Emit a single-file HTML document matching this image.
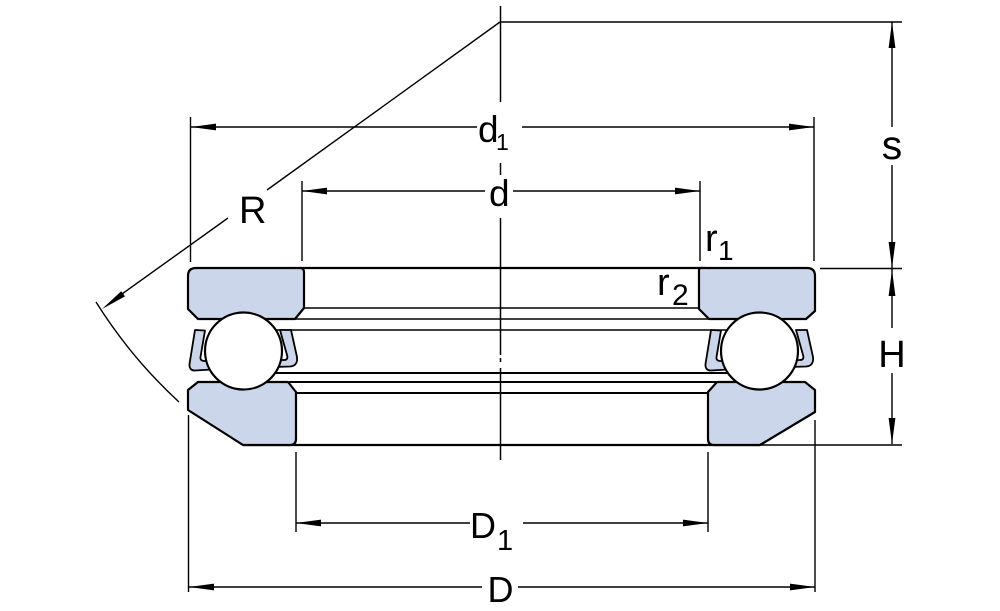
<!DOCTYPE html>
<html><head><meta charset="utf-8"><style>
html,body{margin:0;padding:0;background:#fff;}
svg{display:block;}
text{font-family:"Liberation Sans",Arial,sans-serif;fill:#000;}
</style></head><body>
<svg width="1000" height="611" viewBox="0 0 1000 611" xmlns="http://www.w3.org/2000/svg">
<rect width="1000" height="611" fill="#fff"/>
<g stroke="#000" stroke-width="1.4" fill="none">
  <!-- center line -->
  <line x1="500.5" y1="6" x2="500.5" y2="102" stroke-width="1.5"/>
  <line x1="500.5" y1="163" x2="500.5" y2="175" stroke-width="1.5"/>
  <line x1="500.5" y1="218" x2="500.5" y2="355" stroke-width="1.5"/>
  <line x1="500.5" y1="358" x2="500.5" y2="362" stroke-width="1.5"/>
  <line x1="500.5" y1="368" x2="500.5" y2="460" stroke-width="1.5"/>
  <!-- top line -->
  <line x1="500" y1="22" x2="902" y2="22"/>
  <!-- R line -->
  <line x1="500" y1="22" x2="267" y2="190"/>
  <line x1="228" y1="218" x2="122" y2="294"/>
  <path d="M96,302 A490,490 0 0 0 179,402"/>
  <!-- d1 -->
  <line x1="190.5" y1="117" x2="190.5" y2="262"/>
  <line x1="814" y1="117" x2="814" y2="261"/>
  <line x1="191" y1="127" x2="477" y2="127"/>
  <line x1="522" y1="127" x2="814" y2="127"/>
  <!-- d -->
  <line x1="302" y1="181" x2="302" y2="261"/>
  <line x1="700" y1="181" x2="700" y2="261"/>
  <line x1="302" y1="191" x2="485" y2="191"/>
  <line x1="513" y1="191" x2="700" y2="191"/>
  <!-- s -->
  <line x1="892" y1="22" x2="892" y2="127"/>
  <line x1="892" y1="165" x2="892" y2="268"/>
  <line x1="820" y1="268.5" x2="902" y2="268.5"/>
  <!-- H -->
  <line x1="892" y1="269" x2="892" y2="328"/>
  <line x1="892" y1="373" x2="892" y2="444"/>
  <line x1="760" y1="445" x2="902" y2="445"/>
  <!-- D1 -->
  <line x1="296" y1="452" x2="296" y2="532"/>
  <line x1="708" y1="452" x2="708" y2="532"/>
  <line x1="296" y1="523" x2="470" y2="523"/>
  <line x1="523" y1="523" x2="708" y2="523"/>
  <!-- D -->
  <line x1="188.5" y1="415" x2="188.5" y2="592"/>
  <line x1="815" y1="420" x2="815" y2="592"/>
  <line x1="189" y1="587" x2="482" y2="587"/>
  <line x1="518" y1="587" x2="815" y2="587"/>
</g>
<!-- arrowheads -->
<g fill="#000" stroke="none">
  <polygon points="102,309 121.2,291.2 125,296.4"/>
  <polygon points="191,127 216,123.6 216,130.4"/>
  <polygon points="814,127 789,123.6 789,130.4"/>
  <polygon points="302,191 327,187.6 327,194.4"/>
  <polygon points="700,191 675,187.6 675,194.4"/>
  <polygon points="892,22 888.6,48 895.4,48"/>
  <polygon points="892,268 888.6,242 895.4,242"/>
  <polygon points="892,270 888.6,296 895.4,296"/>
  <polygon points="892,444 888.6,418 895.4,418"/>
  <polygon points="296,523 321,519.6 321,526.4"/>
  <polygon points="708,523 683,519.6 683,526.4"/>
  <polygon points="189,587 214,583.6 214,590.4"/>
  <polygon points="815,587 790,583.6 790,590.4"/>
</g>
<!-- bearing horizontal lines -->
<g stroke="#000" fill="none">
  <line x1="300" y1="268" x2="705" y2="268" stroke-width="2.2"/>
  <line x1="304" y1="308" x2="699" y2="308" stroke-width="1.6"/>
  <line x1="295" y1="319" x2="709" y2="319" stroke-width="1.6"/>
  <line x1="262" y1="330" x2="740" y2="330" stroke-width="1.6"/>
  <line x1="262" y1="373" x2="740" y2="373" stroke-width="2"/>
  <line x1="289" y1="382" x2="717" y2="382" stroke-width="2"/>
  <line x1="296" y1="393" x2="708" y2="393" stroke-width="2"/>
  <line x1="243" y1="445" x2="760" y2="445" stroke-width="2.2"/>
</g>
<!-- washers -->
<g fill="#cbd6ea" stroke="#000" stroke-width="2.2" stroke-linejoin="round">
  <path d="M196,268 L300,268 Q304,268 304,272 L304,308 L295,319 L198,319 L188,309 L188,276 Q188,268 196,268 Z"/>
  <path d="M701,268 L807,268 Q815,268 815,276 L815,311 L806,319 L709,319 L699,309 L699,270 Q699,268 701,268 Z"/>
  <path d="M198,382 L288,382 L296,392 L296,439 Q296,445 290,445 L243,445 L188,410 L188,390 Z"/>
  <path d="M717,382 L805,382 L815,390 L815,412 L760,445 L714,445 Q708,445 708,439 L708,392 Z"/>
</g>
<!-- cages and balls -->
<g>
  <g fill="#cbd6ea" stroke="#000" stroke-width="1.8" stroke-linejoin="round">
    <path d="M195,330 L205,330.5 L200.5,357 Q200,361 204.5,361 L212,361 L212,369.5 L195,370.5 Q189,370.5 189.5,364 Z"/>
    <path d="M280,330 L291,330 L297,357 Q298,366 290,366.5 L274,367 L274,360 L284,360 Q288,360 287.3,356 Z"/>
  </g>
  <circle cx="243.5" cy="351" r="38.5" fill="#fff" stroke="#000" stroke-width="2.2"/>
</g>
<g transform="translate(516,0)">
  <g fill="#cbd6ea" stroke="#000" stroke-width="1.8" stroke-linejoin="round">
    <path d="M195,330 L205,330.5 L200.5,357 Q200,361 204.5,361 L212,361 L212,369.5 L195,370.5 Q189,370.5 189.5,364 Z"/>
    <path d="M280,330 L291,330 L297,357 Q298,366 290,366.5 L274,367 L274,360 L284,360 Q288,360 287.3,356 Z"/>
  </g>
  <circle cx="243.5" cy="351" r="38.5" fill="#fff" stroke="#000" stroke-width="2.2"/>
</g>
<!-- labels -->
<text x="478" y="142" font-size="37">d</text>
<text x="496" y="150" font-size="23">1</text>
<text x="489" y="206" font-size="37">d</text>
<text x="239" y="223" font-size="38">R</text>
<text x="892" y="159" font-size="41" text-anchor="middle">s</text>
<text x="892" y="367" font-size="38" text-anchor="middle">H</text>
<text x="705" y="251" font-size="38">r</text>
<text x="718" y="260" font-size="28">1</text>
<text x="657" y="295" font-size="38">r</text>
<text x="672" y="305" font-size="30">2</text>
<text x="470" y="538" font-size="36">D</text>
<text x="497" y="550" font-size="29">1</text>
<text x="500.5" y="602" font-size="36" text-anchor="middle">D</text>
</svg>
</body></html>
